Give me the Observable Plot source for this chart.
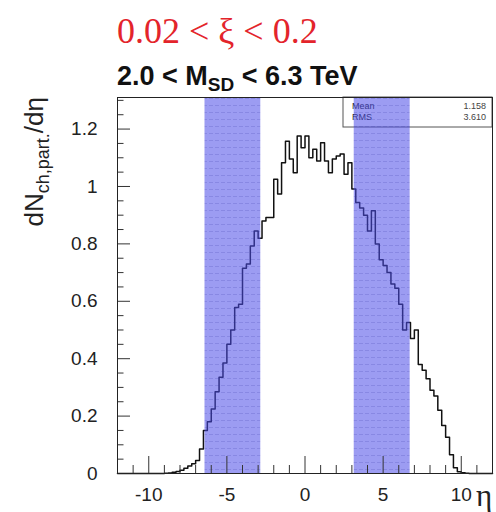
<!DOCTYPE html>
<html>
<head>
<meta charset="utf-8">
<script src="https://cdn.jsdelivr.net/npm/d3@7"></script>
<script src="https://cdn.jsdelivr.net/npm/@observablehq/plot@0.6"></script>
<style>
  html, body { margin: 0; padding: 0; background: #fff; }
  #chart svg { display: block; }
</style>
</head>
<body>
<div id="chart"></div>
<script>
// ---------- data ----------
const titleText = "0.02 < ξ < 0.2";
const massText = ["2.0 < M", "SD", " < 6.3 TeV"];
const yLabelParts = ["dN", "ch,part.", "/dη"];
const xLabelText = "η";

const binWidth = 0.25;
const firstEdge = -9.0;
const dNdEta = [
  0.001, 0.002, 0.004, 0.007, 0.011, 0.018, 0.026, 0.034, 0.045, 0.085,
  0.150, 0.180, 0.225, 0.285, 0.335, 0.385, 0.450, 0.500, 0.578, 0.590,
  0.715, 0.730, 0.793, 0.845, 0.820, 0.880, 0.892, 0.892, 1.025, 0.974,
  1.083, 1.158, 1.096, 1.048, 1.176, 1.135, 1.176, 1.100, 1.130, 1.089,
  1.152, 1.089, 1.048, 1.096, 1.106, 1.113, 1.043, 1.083, 0.991, 0.944,
  0.925, 0.900, 0.845, 0.915, 0.800, 0.745, 0.725, 0.700, 0.660, 0.645,
  0.590, 0.500, 0.526, 0.470, 0.500, 0.380, 0.360, 0.330, 0.290, 0.270,
  0.220, 0.167, 0.126, 0.065, 0.020, 0.006, 0.003, 0.001
];

const bandLow = [-6.4, 3.15];
const bandHigh = [-2.83, 6.73];

const statsLabels = ["Mean", "RMS"];
const statsValues = ["1.158", "3.610"];

const xMajor = [-10, -5, 0, 5, 10];
const xMinor = [-11, -9, -8, -7, -6, -4, -3, -2, -1, 1, 2, 3, 4, 6, 7, 8, 9, 11];
const yMajor = [0, 0.2, 0.4, 0.6, 0.8, 1.0, 1.2];
const yMinor = [0.05, 0.1, 0.15, 0.25, 0.3, 0.35, 0.45, 0.5, 0.55, 0.65, 0.7, 0.75,
                0.85, 0.9, 0.95, 1.05, 1.1, 1.15, 1.25, 1.3];

const xDomain = [-12, 12];
const yDomain = [0, 1.31];

// ---------- layout ----------
const W = 496, H = 512, mT = 97, mB = 39, mL = 117, mR = 4;
const innerW = W - mL - mR, innerH = H - mT - mB;

// ---------- derived tables ----------
const histPoints = [{x: xDomain[0], y: 0}];
dNdEta.forEach((v, i) => histPoints.push({x: firstEdge + i * binWidth, y: v}));
histPoints.push({x: firstEdge + dNdEta.length * binWidth, y: 0});
histPoints.push({x: xDomain[1], y: 0});

const bands = bandLow.map((lo, i) => ({x1: lo, x2: bandHigh[i]}));

const sans = "'Liberation Sans', Arial, Helvetica, sans-serif";
const serif = "'Liberation Serif', 'Times New Roman', serif";

// stats box as a render-function mark (drawn before the bands so they overlay it)
function statsBox(index, scales, values, dimensions) {
  const {width, marginRight, marginTop} = dimensions;
  const right = width - marginRight;
  const g = d3.create("svg:g");
  g.append("rect")
    .attr("x", 343).attr("y", marginTop)
    .attr("width", right - 343).attr("height", 30)
    .attr("fill", "white").attr("stroke", "#555").attr("stroke-width", 1);
  statsLabels.forEach((lab, i) => {
    g.append("text").attr("x", 352).attr("y", marginTop + 12 + i * 11)
      .attr("text-anchor", "start")
      .attr("font-family", sans).attr("font-size", 9).attr("fill", "#222").text(lab);
    g.append("text").attr("x", right - 6).attr("y", marginTop + 12 + i * 11)
      .attr("text-anchor", "end")
      .attr("font-family", sans).attr("font-size", 9).attr("fill", "#444").text(statsValues[i]);
  });
  return g.node();
}

const plot = Plot.plot({
  width: W,
  height: H,
  marginTop: mT,
  marginBottom: mB,
  marginLeft: mL,
  marginRight: mR,
  x: {domain: xDomain},
  y: {domain: yDomain},
  style: {fontFamily: sans, fontSize: "19px", color: "#222", background: "white"},
  marks: [
    Plot.line(histPoints, {x: "x", y: "y", curve: "step-after", stroke: "#111", strokeWidth: 1.5}),
    statsBox,
    Plot.rect(bands, {x1: "x1", x2: "x2", y1: yDomain[0], y2: yDomain[1], fill: "#4b4be6", fillOpacity: 0.55}),
    // inward ticks (ROOT style)
    Plot.tickX(xMajor, {x: d => d, insetTop: innerH - 17, stroke: "#333"}),
    Plot.tickX(xMinor, {x: d => d, insetTop: innerH - 8, stroke: "#333"}),
    Plot.tickY(yMajor, {y: d => d, insetRight: innerW - 13, stroke: "#333"}),
    Plot.tickY(yMinor, {y: d => d, insetRight: innerW - 6.5, stroke: "#333"}),
    // tick labels
    Plot.axisX({ticks: xMajor, tickSize: 0, tickPadding: 14, tickFormat: d => String(d), label: null, fill: "#222"}),
    Plot.axisY({ticks: yMajor, tickSize: 0, tickPadding: 20, tickFormat: d => String(+d.toFixed(1)), label: null, fill: "#222"}),
    Plot.frame({stroke: "#222", strokeWidth: 1})
  ]
});

const svg = d3.select(plot);

// light hatch texture for the shaded bands (ROOT-like fill style)
const defs = svg.insert("defs", ":first-child");
const pat = defs.append("pattern").attr("id", "bandPat")
  .attr("patternUnits", "userSpaceOnUse").attr("width", 6).attr("height", 7);
pat.append("rect").attr("width", 6).attr("height", 7).attr("fill", "#4b4be6").attr("fill-opacity", 0.55);
pat.append("line").attr("x1", 0).attr("x2", 6).attr("y1", 0.5).attr("y2", 0.5)
  .attr("stroke", "#2a2aa0").attr("stroke-opacity", 0.18).attr("stroke-dasharray", "3,2");
svg.selectAll("g[aria-label='rect'] rect").attr("fill", "url(#bandPat)").attr("fill-opacity", 1);

// titles
svg.append("text").attr("x", 117).attr("y", 43)
  .attr("text-anchor", "start")
  .attr("font-family", serif).attr("font-size", 36).attr("fill", "#e3242b")
  .text(titleText);

const m = svg.append("text").attr("x", 117).attr("y", 85)
  .attr("text-anchor", "start")
  .attr("font-family", sans).attr("font-weight", "bold").attr("font-size", 27).attr("fill", "#111");
m.append("tspan").text(massText[0]);
m.append("tspan").attr("font-size", 19).attr("dy", 6).text(massText[1]);
m.append("tspan").attr("dy", -6).text(massText[2]);

// y-axis title (rotated, aligned to top of axis)
const yl = svg.append("text")
  .attr("transform", "translate(43,97) rotate(-90)")
  .attr("text-anchor", "end")
  .attr("font-family", sans).attr("font-size", 26).attr("fill", "#222");
yl.append("tspan").text(yLabelParts[0]);
yl.append("tspan").attr("font-size", 18).attr("dy", 6).text(yLabelParts[1]);
yl.append("tspan").attr("dy", -6).text(yLabelParts[2]);

// x-axis title
svg.append("text").attr("x", 476).attr("y", 506)
  .attr("text-anchor", "start")
  .attr("font-family", serif).attr("font-size", 31).attr("fill", "#222")
  .text(xLabelText);

document.getElementById("chart").appendChild(plot);
</script>
</body>
</html>
